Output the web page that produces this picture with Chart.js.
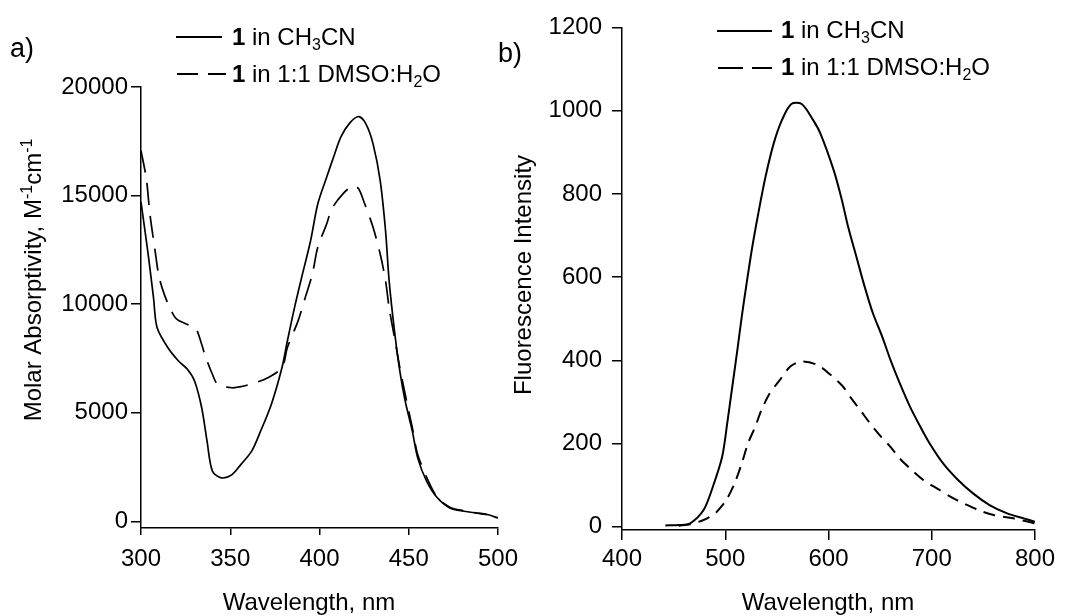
<!DOCTYPE html>
<html>
<head>
<meta charset="utf-8">
<script src="https://cdn.jsdelivr.net/npm/chart.js@4.4.0/dist/chart.umd.min.js"></script>
<style>
  html, body { margin: 0; padding: 0; background: #fff; }
  #wrap { position: relative; width: 1067px; height: 616px; overflow: hidden; }
  canvas { position: absolute; top: 0; }
  #absChart { left: 0; width: 533px; height: 616px; }
  #fluChart { left: 490px; width: 577px; height: 616px; }
</style>
</head>
<body>
<div id="wrap">
  <canvas id="absChart" width="533" height="616"></canvas>
  <canvas id="fluChart" width="577" height="616"></canvas>
</div>
<script>
// --- a) absorption spectra ---
const absSolidNm = [300,304,307,309,315,321,326,330,334,337,340,345,351,356,362,367,373,379,382,386,390,395,399,404,408,412,417,422,426,430,434,437,439,442,445,448,452,455,460,466,473,481,488,494,500];
const absSolidVal = [14700,12300,10300,8920,8000,7380,7000,6460,5230,3690,2310,2000,2150,2620,3230,4150,5380,7080,8300,9840,11230,12920,14600,15840,16800,17700,18350,18640,18300,17380,15690,13380,11080,8770,6920,5540,4150,2920,1850,1080,615,460,380,310,150];
const absDashNm = [300,303,305,308,310,313,317,320,325,329,331,334,336,340,343,351,356,364,371,379,382,388,392,396,399,404,407,413,419,422,425,430,434,437,439,442,445,448,452,455,461,466,473,481,488,494];
const absDashVal = [17070,15770,14150,12400,11300,10460,9690,9310,9100,8950,8850,8150,7610,6770,6310,6150,6200,6380,6610,7080,8000,9230,10300,11380,12610,13690,14400,15070,15460,15300,14690,13540,12310,11080,9840,8460,7070,5850,4310,3080,1850,1100,650,480,380,300];
const absXTicks = [300, 350, 400, 450, 500];
const absYTicks = [0, 5000, 10000, 15000, 20000];

// --- b) fluorescence spectra ---
const fluSolidNm = [442,456,466,479,488,497,502,507,512,516,521,526,532,539,547,555,564,574,585,592,605,613,619,627,635,643,652,660,669,679,689,698,711,724,740,756,773,789,800];
const fluSolidVal = [3,4,8,40,96,168,250,340,430,505,590,670,753,841,922,978,1016,1016,978,946,857,785,721,649,577,513,457,401,345,288,240,200,152,116,80,52,32,20,12];
const fluDashNm = [455,466,479,488,492,501,509,516,522,529,535,543,553,563,574,589,602,614,621,632,640,651,660,669,679,692,705,721,731,747,760,779,800];
const fluDashVal = [2,6,16,28,36,64,104,152,200,240,280,320,353,385,397,389,365,337,312,276,249,216,192,164,140,112,92,68,56,38,28,20,8];
const fluXTicks = [400, 500, 600, 700, 800];
const fluYTicks = [0, 200, 400, 600, 800, 1000, 1200];

const FONT = "'Liberation Sans', Arial, Helvetica, sans-serif";
const SIZE = 24;
const tickFont = { family: FONT, size: SIZE };

const pts = (xs, ys) => xs.map((x, i) => ({ x, y: ys[i] }));

// text med fet / sänkt / upphöjd del
function runFont(r) {
  return (r.bold ? "bold " : "") + (r.sub || r.sup ? 16 : SIZE) + "px " + FONT;
}
function drawRuns(ctx, runs, x, y) {
  let cx = x;
  runs.forEach((r) => {
    ctx.font = runFont(r);
    const dy = r.sub ? 5 : r.sup ? -9 : 0;
    ctx.fillText(r.t, cx, y + dy);
    cx += ctx.measureText(r.t).width;
  });
  return cx - x;
}
function runsWidth(ctx, runs) {
  let w = 0;
  runs.forEach((r) => { ctx.font = runFont(r); w += ctx.measureText(r.t).width; });
  return w;
}

const legendRuns1 = [{ t: "1", bold: true }, { t: " in CH" }, { t: "3", sub: true }, { t: "CN" }];
const legendRuns2 = [{ t: "1", bold: true }, { t: " in 1:1 DMSO:H" }, { t: "2", sub: true }, { t: "O" }];

function textPlugin(o) {
  return {
    id: "texts",
    afterDraw(chart) {
      const ctx = chart.ctx;
      ctx.save();
      ctx.translate(-o.offset, 0);
      ctx.fillStyle = "#000";
      ctx.strokeStyle = "#000";
      ctx.textBaseline = "alphabetic";
      ctx.textAlign = "left";

      // panel letter
      ctx.font = "27px " + FONT;
      ctx.fillText(o.letter[0], o.letter[1], o.letter[2]);

      // legend
      const L = o.legend;
      ctx.lineWidth = 1.8;
      ctx.beginPath();
      ctx.moveTo(L.x0, L.y1); ctx.lineTo(L.x1, L.y1);
      ctx.stroke();
      ctx.beginPath();
      L.dashes.forEach(([a, b]) => { ctx.moveTo(a, L.y2); ctx.lineTo(b, L.y2); });
      ctx.stroke();
      drawRuns(ctx, legendRuns1, L.tx, L.b1);
      drawRuns(ctx, legendRuns2, L.tx, L.b2);

      // x title
      ctx.font = SIZE + "px " + FONT;
      ctx.textAlign = "center";
      ctx.fillText("Wavelength, nm", o.xTitle[0], o.xTitle[1]);
      ctx.textAlign = "left";

      // y title (rotated)
      const w = runsWidth(ctx, o.yRuns);
      ctx.translate(o.yTitle[0], o.yTitle[1] + w / 2);
      ctx.rotate(-Math.PI / 2);
      drawRuns(ctx, o.yRuns, 0, 0);
      ctx.restore();
    }
  };
}

function axis(ticksArr, min, max, tickLen, pad, fit, horizontal) {
  return {
    type: "linear",
    min, max,
    afterBuildTicks: (s) => { s.ticks = ticksArr.map((v) => ({ value: v })); },
    afterFit: (s) => { if (horizontal) s.height = fit; else s.width = fit; },
    ticks: {
      color: "#000", font: tickFont, padding: pad,
      autoSkip: false, maxRotation: 0,
      callback: (v) => String(v)
    },
    grid: { drawOnChartArea: false, drawTicks: true, tickLength: tickLen, color: "#000", lineWidth: 1.5 },
    border: { display: true, color: "#000", width: 1.5 }
  };
}

function lineSet(data, dash, width) {
  return {
    data, borderColor: "#000", borderWidth: width, borderDash: dash,
    pointRadius: 0, fill: false, tension: 0.3
  };
}

const baseOpts = {
  responsive: false, animation: false, devicePixelRatio: 1,
  plugins: { legend: { display: false }, tooltip: { enabled: false } }
};

new Chart(document.getElementById("absChart").getContext("2d"), {
  type: "line",
  data: {
    datasets: [
      lineSet(pts(absSolidNm, absSolidVal), [], 1.7),
      lineSet(pts(absDashNm, absDashVal), [22, 11], 1.7)
    ]
  },
  options: {
    ...baseOpts,
    layout: { padding: { left: 0, right: 35, top: 87, bottom: 0 } },
    scales: {
      x: axis(absXTicks, 300, 500, 7, 10, 88, true),
      y: axis(absYTicks, -310, 20000, 10, 3, 141, false)
    }
  },
  plugins: [textPlugin({
    offset: 0,
    letter: ["a)", 10, 57],
    legend: { x0: 176, x1: 222, y1: 37, y2: 74, dashes: [[177, 198], [208, 226]], tx: 232, b1: 45, b2: 82 },
    xTitle: [309, 610],
    yTitle: [41, 280],
    yRuns: [{ t: "Molar Absorptivity, M" }, { t: "-1", sup: true }, { t: "cm" }, { t: "-1", sup: true }]
  })]
});

new Chart(document.getElementById("fluChart").getContext("2d"), {
  type: "line",
  data: {
    datasets: [
      lineSet(pts(fluSolidNm, fluSolidVal), [], 2),
      lineSet(pts(fluDashNm, fluDashVal), [12, 8], 2)
    ]
  },
  options: {
    ...baseOpts,
    layout: { padding: { left: 0, right: 32, top: 27.5, bottom: 0 } },
    scales: {
      x: axis(fluXTicks, 400, 800, 10, 5, 86, true),
      y: axis(fluYTicks, -8, 1200, 10, 10, 132, false)
    }
  },
  plugins: [textPlugin({
    offset: 490,
    letter: ["b)", 498, 62],
    legend: { x0: 717, x1: 772, y1: 31, y2: 68, dashes: [[718, 743], [752, 772]], tx: 781, b1: 38, b2: 75 },
    xTitle: [828, 610],
    yTitle: [531, 275],
    yRuns: [{ t: "Fluorescence Intensity" }]
  })]
});
</script>
</body>
</html>
